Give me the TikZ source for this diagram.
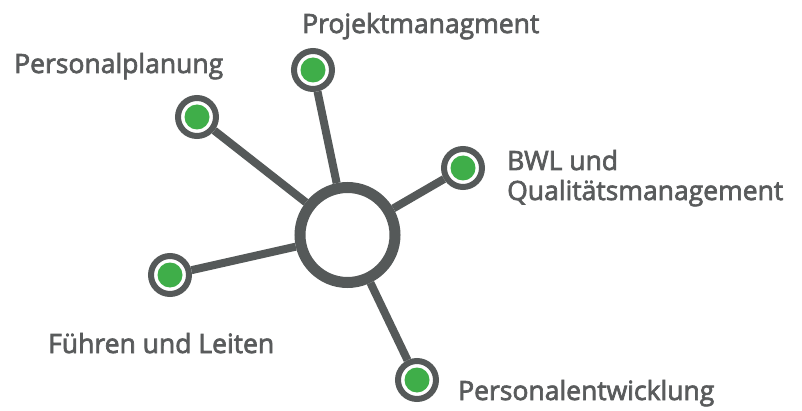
\documentclass[tikz,border=0pt]{standalone}
\usepackage{fontspec}
\setmainfont{Open Sans}
\newfontfamily\topicfont{Open Sans}[RawFeature={embolden=2.6}]
\definecolor{ringgray}{HTML}{555959}
\definecolor{textgray}{HTML}{595B5C}
\definecolor{dotgreen}{HTML}{3FAE49}
\begin{document}
\begin{tikzpicture}[
    x=1pt, y=1pt,
    hub/.style={circle, draw=ringgray, line width=11pt, fill=white, minimum size=95pt, inner sep=0pt},
    dot/.style={circle, draw=ringgray, line width=6pt, fill=white, minimum size=38pt, inner sep=0pt,
        path picture={\fill[dotgreen] (path picture bounding box.center) circle (12.5pt);}},
    link/.style={draw=ringgray, line width=8pt},
    topic/.style={inner sep=0pt, text=textgray, font=\topicfont\fontsize{26.5}{30}\selectfont, align=left},
    every node/.style={
        text centered,
        }
        ]
    \useasboundingbox (0, 0) rectangle (802, 410);

    \node[hub] (center) at (347.5, 175) {};
    \node[dot] (projekt) at (313, 340) {};
    \node[dot] (planung) at (197, 293) {};
    \node[dot] (bwl) at (463, 242) {};
    \node[dot] (fuehren) at (170, 135) {};
    \node[dot] (entwicklung) at (417, 30) {};

    \draw[link] (center) -- (projekt);
    \draw[link] (center) -- (planung);
    \draw[link] (center) -- (bwl);
    \draw[link] (center) -- (fuehren);
    \draw[link] (center) -- (entwicklung);

    \node[topic, anchor=base west] (projektText) at (302, 377) {Projektmanagment};
    \node[topic, anchor=base west] (planungText) at (14, 337) {Personalplanung};
    \node[topic, anchor=base west] (bwlText) at (507, 210) {BWL und\\Qualitätsmanagement};
    \node[topic, anchor=base west] (fuehrenText) at (48, 57) {Führen und Leiten};
    \node[topic, anchor=base west] (entwicklungText) at (458, 10) {Personalentwicklung};
\end{tikzpicture}
\end{document}
